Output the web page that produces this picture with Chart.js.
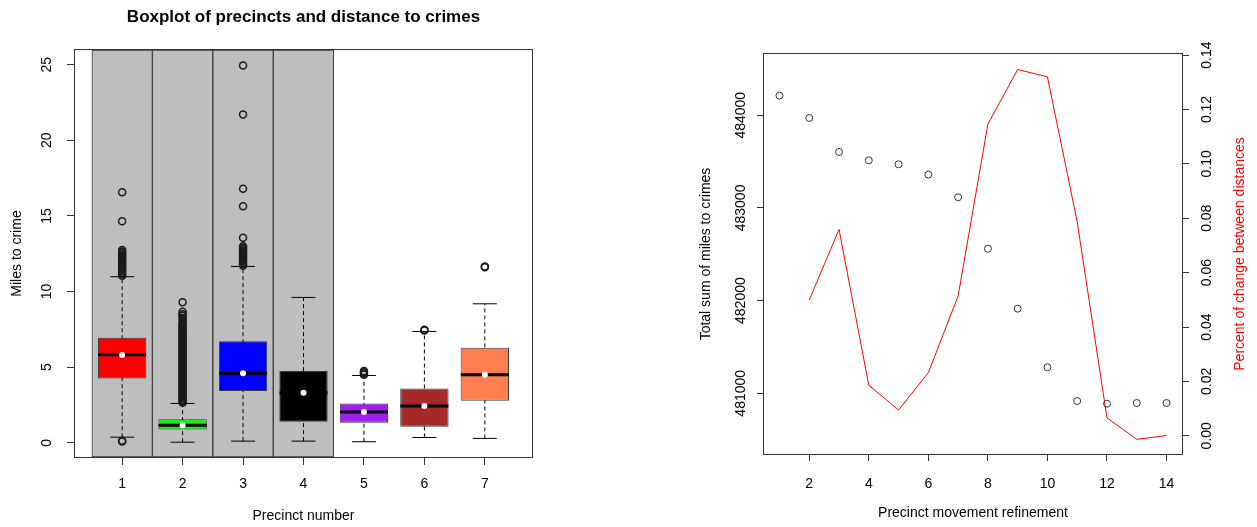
<!DOCTYPE html>
<html>
<head>
<meta charset="utf-8">
<script src="https://cdn.jsdelivr.net/npm/chart.js@4.4.1/dist/chart.umd.min.js"></script>
<style>
  html, body { margin: 0; padding: 0; background: #fff; }
  #wrap { position: relative; width: 1257px; height: 527px; }
  #left { position: absolute; left: 0; top: 0; }
  #right { position: absolute; left: 630px; top: 0; }
</style>
</head>
<body>
<div id="wrap">
  <canvas id="left" width="630" height="527"></canvas>
  <canvas id="right" width="627" height="527"></canvas>
</div>
<script>
// ---- left: boxplot of precincts
var precincts   = [1, 2, 3, 4, 5, 6, 7];
var boxColors   = ['#FF0000', '#00FF00', '#0000FF', '#000000', '#A020F0', '#A52A2A', '#FF7F50'];
var lowWhisker  = [0.37, 0.04, 0.11, 0.11, 0.07, 0.35, 0.29];
var q1          = [4.25, 0.88, 3.42, 1.39, 1.32, 1.06, 2.78];
var median      = [5.82, 1.16, 4.59, 3.30, 2.03, 2.43, 4.50];
var q3          = [6.94, 1.55, 6.72, 4.74, 2.60, 3.59, 6.28];
var highWhisker = [10.98, 2.60, 11.66, 9.61, 4.45, 7.36, 9.19];
var means       = [5.80, 1.16, 4.60, 3.31, 2.03, 2.43, 4.50];
var shaded      = [1, 2, 3, 4];

var out1 = [0.08, 0.13, 11.05, 11.15, 11.25, 11.35, 11.45, 11.55, 11.65, 11.75, 11.85, 11.95,
            12.05, 12.15, 12.25, 12.35, 12.45, 12.55, 12.65, 12.74, 14.65, 16.57];
var out2 = [2.65, 2.75, 2.85, 2.95, 3.05, 3.15, 3.25, 3.35, 3.45, 3.55, 3.65, 3.75, 3.85, 3.95,
            4.05, 4.15, 4.25, 4.35, 4.45, 4.55, 4.65, 4.75, 4.85, 4.95, 5.05, 5.15, 5.25, 5.35,
            5.45, 5.55, 5.65, 5.75, 5.85, 5.95, 6.05, 6.15, 6.25, 6.35, 6.45, 6.55, 6.65, 6.75,
            6.85, 6.95, 7.05, 7.15, 7.25, 7.35, 7.45, 7.55, 7.65, 7.75, 7.85, 7.95, 8.1, 8.25,
            8.4, 8.5, 8.66, 9.3];
var out3 = [11.7, 11.8, 11.9, 12.0, 12.1, 12.2, 12.3, 12.4, 12.5, 12.6, 12.7, 12.8, 12.9, 13.0,
            13.55, 15.64, 16.8, 21.7, 24.95];
var out4 = [];
var out5 = [4.5, 4.58, 4.66, 4.74];
var out6 = [7.42, 7.48];
var out7 = [11.6, 11.66];
var outliers = [out1, out2, out3, out4, out5, out6, out7];

var yTicksLeft = [0, 5, 10, 15, 20, 25];
var xLeftMin = 0.22, xLeftMax = 7.78;
var yLeftMin = -0.94, yLeftMax = 25.97;

// ---- right: refinement steps
var refinement  = [1, 2, 3, 4, 5, 6, 7, 8, 9, 10, 11, 12, 13, 14];
var totalMiles  = [484212, 483971, 483604, 483514, 483471, 483359, 483115, 482560, 481913, 481281,
                   480917, 480888, 480895, 480895];
var pctChange   = [null, 0.0499, 0.0759, 0.0186, 0.0095, 0.0232, 0.0514, 0.1146, 0.1347, 0.1320,
                   0.0787, 0.0066, -0.0013, 0.0001];
var xTicksRight  = [2, 4, 6, 8, 10, 12, 14];
var yTicksMiles  = [481000, 482000, 483000, 484000];
var yTicksPct    = [0, 0.02, 0.04, 0.06, 0.08, 0.10, 0.12, 0.14];
var rightAxisTitle = 'Percent of change between distances';

Chart.defaults.font.family = '"Liberation Sans", Arial, Helvetica, sans-serif';
Chart.defaults.font.size = 14;
Chart.defaults.color = '#000';

// build the point lists from the arrays
var bgPts = shaded.map(function (p) { return { x: p, y: [yLeftMin, yLeftMax] }; });
var boxPts = [], medPts = [], meanPts = [], staplePts = [], whiskerPts = [], outPts = [];
for (var i = 0; i < precincts.length; i++) {
  var p = precincts[i];
  boxPts.push({ x: p, y: [q1[i], q3[i]] });
  medPts.push({ x: p, y: median[i] });
  meanPts.push({ x: p, y: means[i] });
  staplePts.push({ x: p, y: lowWhisker[i] }, { x: p, y: highWhisker[i] });
  whiskerPts.push({ x: p, y: lowWhisker[i] }, { x: p, y: highWhisker[i] }, { x: p, y: null });
  for (var j = 0; j < outliers[i].length; j++) outPts.push({ x: p, y: outliers[i][j] });
}

// plot box like R's box()
var frame = {
  id: 'frame',
  afterDatasetsDraw: function (chart) {
    var a = chart.chartArea, ctx = chart.ctx;
    ctx.save();
    ctx.strokeStyle = '#333';
    ctx.lineWidth = 1;
    ctx.strokeRect(Math.round(a.left) - 0.5, Math.round(a.top) - 0.5,
                   Math.round(a.right - a.left) + 1, Math.round(a.bottom - a.top) + 1);
    ctx.restore();
  }
};

function tickGrid(len) {
  return { display: true, offset: false, drawOnChartArea: false, drawTicks: true,
           tickLength: len, tickColor: '#333', tickWidth: 1 };
}

new Chart(document.getElementById('left'), {
  type: 'bar',
  data: {
    datasets: [
      { type: 'bar', data: bgPts, backgroundColor: '#BEBEBE', borderColor: '#3a3a3a', borderWidth: 1,
        borderSkipped: false, barPercentage: 1, categoryPercentage: 1, grouped: false, order: 10 },
      { type: 'line', data: whiskerPts, borderColor: '#000', borderWidth: 1, borderDash: [4, 3],
        pointRadius: 0, spanGaps: false, order: 9 },
      { type: 'bar', data: boxPts, backgroundColor: boxColors, borderColor: '#3a3a3a', borderWidth: 1,
        borderSkipped: false, barPercentage: 0.8, categoryPercentage: 1, grouped: false, order: 8 },
      { type: 'scatter', data: medPts, pointStyle: 'line', pointRadius: 24, pointBorderWidth: 3,
        pointBorderColor: '#000', order: 7 },
      { type: 'scatter', data: staplePts, pointStyle: 'line', pointRadius: 12, pointBorderWidth: 1,
        pointBorderColor: '#000', order: 6 },
      { type: 'scatter', data: meanPts, pointStyle: 'circle', pointRadius: 3, pointBorderWidth: 0,
        pointBackgroundColor: '#fff', pointBorderColor: '#fff', order: 5 },
      { type: 'scatter', data: outPts, pointStyle: 'circle', pointRadius: 3.5, pointBorderWidth: 1.5,
        pointBorderColor: '#1a1a1a', pointBackgroundColor: 'rgba(0,0,0,0)', order: 4 }
    ]
  },
  options: {
    responsive: false,
    animation: false,
    events: [],
    layout: { padding: { left: 0, right: 98, top: 0, bottom: 0 } },
    plugins: {
      legend: { display: false },
      tooltip: { enabled: false },
      title: {
        display: true, fullSize: false,
        text: 'Boxplot of precincts and distance to crimes',
        font: { size: 17, weight: 'bold' }, color: '#000',
        padding: { top: 6.8, bottom: 22.8 }
      }
    },
    scales: {
      x: {
        type: 'linear', min: xLeftMin, max: xLeftMax, offset: false,
        afterBuildTicks: function (s) { s.ticks = precincts.map(function (v) { return { value: v }; }); },
        afterFit: function (s) { s.height = 70; },
        ticks: { padding: 11, autoSkip: false, maxRotation: 0 },
        grid: tickGrid(8),
        border: { display: false },
        title: { display: true, text: 'Precinct number', padding: { top: 0, bottom: 2.6 } }
      },
      y: {
        type: 'linear', min: yLeftMin, max: yLeftMax,
        afterBuildTicks: function (s) { s.ticks = yTicksLeft.map(function (v) { return { value: v }; }); },
        afterFit: function (s) { s.width = 75; },
        ticks: { padding: 12, autoSkip: false, minRotation: 90, maxRotation: 90, crossAlign: 'center' },
        grid: tickGrid(8),
        border: { display: false },
        title: { display: true, text: 'Miles to crime', padding: { top: 8.6, bottom: 0 } }
      }
    }
  },
  plugins: [frame]
});

// right axis label reads bottom-to-top like R's mtext(side = 4)
var rightTitle = {
  id: 'rightTitle',
  afterDraw: function (chart) {
    var s = chart.scales.y2, a = chart.chartArea, ctx = chart.ctx;
    ctx.save();
    ctx.translate(s.right - 17, (a.top + a.bottom) / 2);
    ctx.rotate(-Math.PI / 2);
    ctx.fillStyle = '#FF0000';
    ctx.font = '14px "Liberation Sans", Arial, sans-serif';
    ctx.textAlign = 'center';
    ctx.textBaseline = 'middle';
    ctx.fillText(rightAxisTitle, 0, 0);
    ctx.restore();
  }
};

new Chart(document.getElementById('right'), {
  type: 'line',
  data: {
    datasets: [
      { type: 'scatter', yAxisID: 'y',
        data: refinement.map(function (x, k) { return { x: x, y: totalMiles[k] }; }),
        pointStyle: 'circle', pointRadius: 3.5, pointBorderWidth: 1, pointBorderColor: '#333',
        pointBackgroundColor: 'rgba(0,0,0,0)' },
      { type: 'line', yAxisID: 'y2',
        data: refinement.map(function (x, k) { return { x: x, y: pctChange[k] }; }),
        borderColor: '#FF0000', borderWidth: 1, pointRadius: 0, tension: 0, fill: false }
    ]
  },
  options: {
    responsive: false,
    animation: false,
    events: [],
    layout: { padding: { left: 0, right: 0, top: 54, bottom: 0 } },
    plugins: { legend: { display: false }, tooltip: { enabled: false } },
    scales: {
      x: {
        type: 'linear', min: 0.48, max: 14.52, offset: false,
        afterBuildTicks: function (s) { s.ticks = xTicksRight.map(function (v) { return { value: v }; }); },
        afterFit: function (s) { s.height = 73; },
        ticks: { padding: 14.6, autoSkip: false, maxRotation: 0 },
        grid: tickGrid(7),
        border: { display: false },
        title: { display: true, text: 'Precinct movement refinement', padding: { top: 0, bottom: 5.6 } }
      },
      y: {
        type: 'linear', position: 'left', min: 480345, max: 484661,
        afterBuildTicks: function (s) { s.ticks = yTicksMiles.map(function (v) { return { value: v }; }); },
        afterFit: function (s) { s.width = 134; },
        ticks: { padding: -7.3, autoSkip: false, minRotation: 90, maxRotation: 90, crossAlign: 'center',
                 callback: function (v) { return String(v); } },
        grid: tickGrid(7),
        border: { display: false },
        title: { display: true, text: 'Total sum of miles to crimes', padding: { top: 67.6, bottom: 0 } }
      },
      y2: {
        type: 'linear', position: 'right', min: -0.0067, max: 0.1404,
        afterBuildTicks: function (s) { s.ticks = yTicksPct.map(function (v) { return { value: v }; }); },
        afterFit: function (s) { s.width = 75; },
        ticks: { padding: 4.4, autoSkip: false, minRotation: 90, maxRotation: 90, crossAlign: 'center',
                 callback: function (v) { return v.toFixed(2); } },
        grid: tickGrid(7),
        border: { display: false }
      }
    }
  },
  plugins: [frame, rightTitle]
});
</script>
</body>
</html>
